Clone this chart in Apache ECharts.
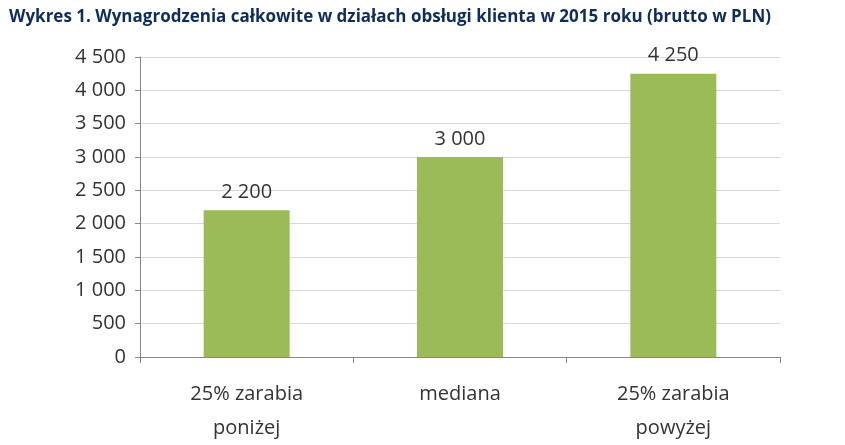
<!DOCTYPE html>
<html>
<head>
<meta charset="utf-8">
<script src="https://cdn.jsdelivr.net/npm/echarts@6/dist/echarts.min.js"></script>
<style>html,body{margin:0;padding:0;background:#fff}#main{width:845px;height:445px}</style>
</head>
<body>
<div id="main"></div>
<script>
var categories = ['25% zarabia\nponiżej', 'mediana', '25% zarabia\npowyżej'];
var values = [2200, 3000, 4250];

function fmt(v) {
    return String(v).replace(/\B(?=(\d{3})+(?!\d))/g, ' ');
}

var chart = echarts.init(document.getElementById('main'));
chart.setOption({
    animation: false,
    title: {
        text: 'Wykres 1. Wynagrodzenia całkowite w działach obsługi klienta w 2015 roku (brutto w PLN)',
        left: 4,
        top: 4,
        textStyle: { color: '#0F2D5C', fontSize: 17, fontWeight: 'bold', fontFamily: 'Open Sans' }
    },
    grid: { left: 140, right: 65, top: 57, bottom: 64 },
    xAxis: {
        type: 'category',
        data: categories,
        axisLine: { lineStyle: { color: '#888' } },
        axisTick: { show: true, length: 6, lineStyle: { color: '#888' } },
        axisLabel: { color: '#333', fontSize: 20, fontFamily: 'Open Sans', margin: 20, lineHeight: 34 }
    },
    yAxis: {
        type: 'value',
        min: 0,
        max: 4500,
        interval: 500,
        axisLine: { show: true, lineStyle: { color: '#888' } },
        axisTick: { show: true, length: 5, lineStyle: { color: '#888' } },
        splitLine: { lineStyle: { color: '#d9d9d9' } },
        axisLabel: { color: '#333', fontSize: 20, fontFamily: 'Open Sans', margin: 14, formatter: fmt }
    },
    series: [{
        type: 'bar',
        data: values,
        barWidth: 86,
        itemStyle: { color: '#9BBB59' },
        label: {
            show: true, position: 'top', distance: 8,
            color: '#333', fontSize: 20, fontFamily: 'Open Sans',
            formatter: function (p) { return fmt(p.value); }
        }
    }]
});
</script>
</body>
</html>
